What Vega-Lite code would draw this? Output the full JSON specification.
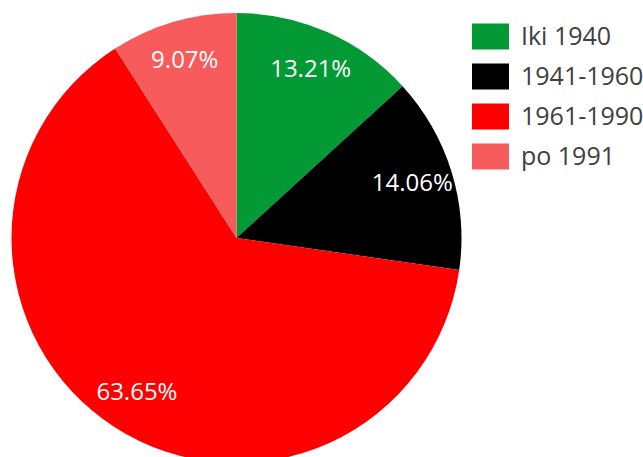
{
  "$schema": "https://vega.github.io/schema/vega-lite/v6.json",
  "width": 473,
  "height": 476,
  "padding": 0,
  "autosize": {"type": "pad"},
  "background": "white",
  "data": {
    "values": [
      {"period": "Iki 1940", "value": 13.21, "label": "13.21%", "idx": 1},
      {"period": "1941-1960", "value": 14.06, "label": "14.06%", "idx": 2},
      {"period": "1961-1990", "value": 63.65, "label": "63.65%", "idx": 3},
      {"period": "po 1991", "value": 9.07, "label": "9.07%", "idx": 4}
    ]
  },
  "encoding": {
    "theta": {"field": "value", "type": "quantitative", "stack": true},
    "order": {"field": "idx", "type": "quantitative"}
  },
  "layer": [
    {
      "mark": {"type": "arc", "outerRadius": 225},
      "encoding": {
        "color": {
          "field": "period",
          "type": "nominal",
          "scale": {
            "domain": ["Iki 1940", "1941-1960", "1961-1990", "po 1991"],
            "range": ["#039935", "#000000", "#FF0000", "#F75B5B"]
          },
          "legend": {
            "title": null,
            "orient": "none",
            "legendX": 472,
            "legendY": 18,
            "symbolType": "M-1,-0.7L1,-0.7L1,0.7L-1,0.7Z",
            "symbolSize": 1369,
            "symbolStrokeWidth": 0,
            "symbolOpacity": 1,
            "labelFont": "Open Sans",
            "labelFontSize": 25,
            "labelColor": "#404040",
            "labelOffset": 12,
            "labelLimit": 300,
            "rowPadding": 8
          }
        }
      }
    },
    {
      "mark": {
        "type": "text",
        "radius": 184,
        "font": "Open Sans",
        "fontSize": 24,
        "color": "white",
        "align": "center",
        "baseline": "middle"
      },
      "encoding": {
        "text": {"field": "label", "type": "nominal"}
      }
    }
  ],
  "config": {"view": {"stroke": null}}
}
